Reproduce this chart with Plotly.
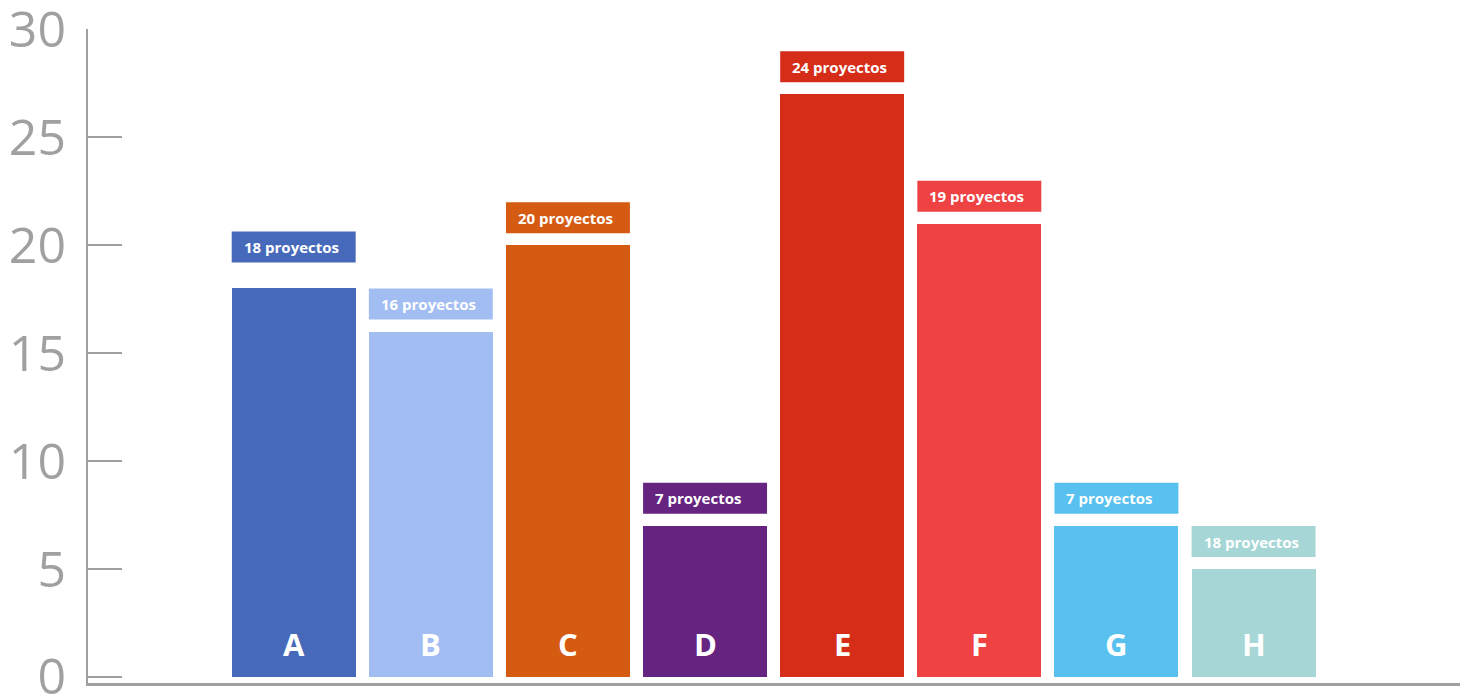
import plotly.graph_objects as go

categories = ["A", "B", "C", "D", "E", "F", "G", "H"]
values = [18, 16, 20, 7, 27, 21, 7, 5]
labels = ["18 proyectos", "16 proyectos", "20 proyectos", "7 proyectos",
          "24 proyectos", "19 proyectos", "7 proyectos", "18 proyectos"]
colors = ["#4669BA", "#A2BDF2", "#D55B12", "#652480",
          "#D52D17", "#EE4243", "#58C1EF", "#A6D6D6"]
y_ticks = [0, 5, 10, 15, 20, 25, 30]

# label-box pixel gap above bar (style)
label_gap = [26, 12, 12, 12, 12, 12, 12, 12]
BOX_H = 31
BAR_W = 0.904
GRAY = "#A0A0A0"
FONT = "Open Sans"

fig = go.Figure()
fig.add_trace(go.Bar(
    x=categories, y=values, marker=dict(color=colors, line=dict(width=0)),
    width=BAR_W, hoverinfo="skip", cliponaxis=False,
))

shapes = []
annotations = []
for i, (v, lab, c, g) in enumerate(zip(values, labels, colors, label_gap)):
    shapes.append(dict(
        type="rect", xref="x", yref="y", ysizemode="pixel", yanchor=v,
        x0=i - BAR_W / 2, x1=i + BAR_W / 2, y0=g, y1=g + BOX_H,
        fillcolor=c, line=dict(width=0), layer="above",
    ))
    annotations.append(dict(
        x=i - BAR_W / 2, y=v, xref="x", yref="y", xanchor="left", yanchor="middle",
        xshift=10, yshift=g + BOX_H / 2, text="<b>" + lab + "</b>", showarrow=False,
        font=dict(family=FONT, size=15, color="white"),
    ))
    annotations.append(dict(
        x=i, y=0, xref="x", yref="y", xanchor="center", yanchor="middle",
        yshift=33, text="<b>" + categories[i] + "</b>", showarrow=False,
        font=dict(family=FONT, size=31, color="white"),
    ))

fig.update_layout(
    width=1460, height=692,
    margin=dict(l=80, r=6, t=21, b=17, autoexpand=False),
    plot_bgcolor="white", paper_bgcolor="white",
    showlegend=False, bargap=0,
    shapes=shapes, annotations=annotations,
    xaxis=dict(
        type="category", range=[-1.5, 8.52], showticklabels=False,
        showline=True, linecolor=GRAY, linewidth=3, ticks="", showgrid=False,
        zeroline=False, fixedrange=True, automargin=False,
    ),
    yaxis=dict(
        range=[-0.28, 30.02], tickvals=y_ticks, showline=True, linecolor=GRAY,
        linewidth=2, ticks="inside", ticklen=34, tickwidth=2, tickcolor=GRAY,
        showgrid=False, zeroline=False, ticklabelstandoff=10,
        ticklabeloverflow="allow", automargin=False,
        tickfont=dict(family=FONT, size=50, color=GRAY), fixedrange=True,
    ),
)

fig.write_html("out.html")
